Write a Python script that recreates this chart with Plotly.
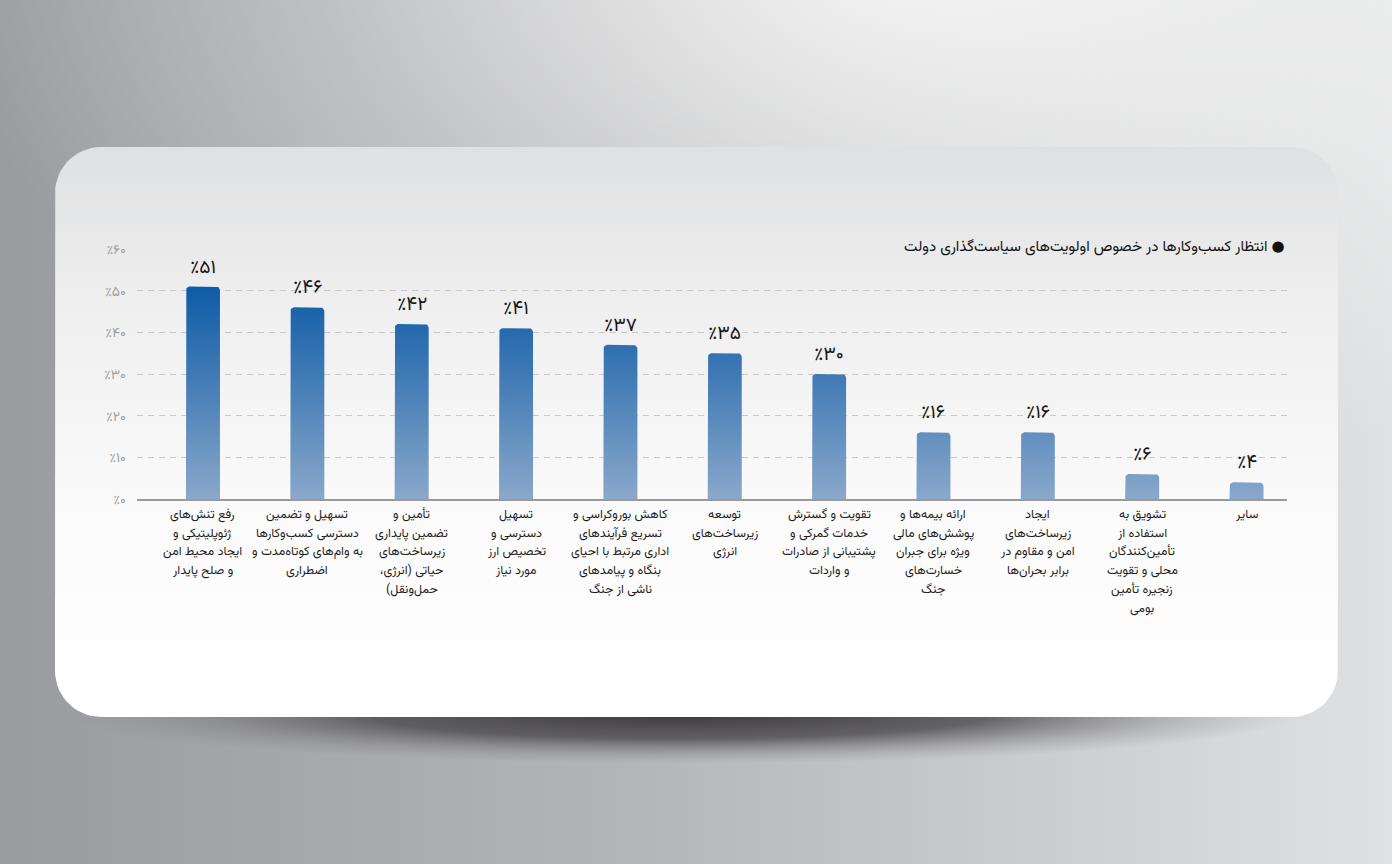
import numpy as np
import plotly.graph_objects as go

# ---------------- data ----------------
categories = [
    "رفع تنش‌های<br>ژئوپلیتیکی و<br>ایجاد محیط امن<br>و صلح پایدار",
    "تسهیل و تضمین<br>دسترسی کسب‌وکارها<br>به وام‌های کوتاه‌مدت و<br>اضطراری",
    "تأمین و<br>تضمین پایداری<br>زیرساخت‌های<br>حیاتی (انرژی،<br>حمل‌ونقل)",
    "تسهیل<br>دسترسی و<br>تخصیص ارز<br>مورد نیاز",
    "کاهش بوروکراسی و<br>تسریع فرآیندهای<br>اداری مرتبط با احیای<br>بنگاه و پیامدهای<br>ناشی از جنگ",
    "توسعه<br>زیرساخت‌های<br>انرژی",
    "تقویت و گسترش<br>خدمات گمرکی و<br>پشتیبانی از صادرات<br>و واردات",
    "ارائه بیمه‌ها و<br>پوشش‌های مالی<br>ویژه برای جبران<br>خسارت‌های<br>جنگ",
    "ایجاد<br>زیرساخت‌های<br>امن و مقاوم در<br>برابر بحران‌ها",
    "تشویق به<br>استفاده از<br>تأمین‌کنندگان<br>محلی و تقویت<br>زنجیره تأمین<br>بومی",
    "سایر",
]
values = [51, 46, 42, 41, 37, 35, 30, 16, 16, 6, 4]
y_ticks = [0, 10, 20, 30, 40, 50, 60]
legend_title = "انتظار کسب‌وکارها در خصوص اولویت‌های سیاست‌گذاری دولت"

FA = str.maketrans("0123456789", "۰۱۲۳۴۵۶۷۸۹")
RLM = "\u200f"


def fa_pct(v):
    return "٪" + str(v).translate(FA)


def rtl(s):
    return RLM + s + RLM


FONT = "Vazirmatn, 'Noto Sans Arabic', 'DejaVu Sans', sans-serif"

W, H = 1392, 864
PL, PR, PT, PB = 137, 1287, 249, 499      # plot area in pixels
XR = [-0.632, 10.388]
YR = [0, 60]


def py(y):  # pixel-from-top -> background axis value
    return H - y


def rounded_rect(x0, y0, x1, y1, r, n=16):
    xs, ys = [], []
    corners = [
        (x1 - r, y0 + r, -90, 0),
        (x1 - r, y1 - r, 0, 90),
        (x0 + r, y1 - r, 90, 180),
        (x0 + r, y0 + r, 180, 270),
    ]
    for cx, cy, a0, a1 in corners:
        for a in np.linspace(np.radians(a0), np.radians(a1), n):
            xs.append(cx + r * np.cos(a))
            ys.append(py(cy + r * np.sin(a)))
    xs.append(xs[0])
    ys.append(ys[0])
    return xs, ys


def ellipse(cx, cy, a, b, n=90):
    t = np.linspace(0, 2 * np.pi, n)
    return list(cx + a * np.cos(t)), list(py(cy + b * np.sin(t)))


fig = go.Figure()

# ---------------- decorative background (full-page axes) ----------------
fig.add_trace(go.Scatter(
    x=[0, W, W, 0, 0], y=[0, 0, H, H, 0], mode="lines", fill="toself",
    line=dict(width=0), hoverinfo="skip", showlegend=False,
    fillgradient=dict(type="horizontal",
                      colorscale=[[0, "#9a9b9f"], [0.45, "#b4b5b7"], [1, "#e0e1e2"]]),
    xaxis="x", yaxis="y"))

gx, gy = ellipse(920, -60, 1000, 560)
fig.add_trace(go.Scatter(
    x=gx, y=gy, mode="lines", fill="toself", line=dict(width=0),
    hoverinfo="skip", showlegend=False,
    fillgradient=dict(type="radial",
                      colorscale=[[0, "rgba(255,255,255,0.85)"], [0.6, "rgba(255,255,255,0.28)"],
                                  [1, "rgba(255,255,255,0)"]]),
    xaxis="x", yaxis="y"))

sx, sy = ellipse(680, 714, 620, 50)
fig.add_trace(go.Scatter(
    x=sx, y=sy, mode="lines", fill="toself", line=dict(width=0),
    hoverinfo="skip", showlegend=False,
    fillgradient=dict(type="radial",
                      colorscale=[[0, "rgba(60,58,60,1)"], [0.5, "rgba(75,73,75,0.8)"],
                                  [0.8, "rgba(110,110,112,0.3)"], [1, "rgba(130,130,132,0)"]]),
    xaxis="x", yaxis="y"))

cx_, cy_ = rounded_rect(55, 147, 1338, 717, 46)
fig.add_trace(go.Scatter(
    x=cx_, y=cy_, mode="lines", fill="toself", line=dict(width=0),
    hoverinfo="skip", showlegend=False,
    fillgradient=dict(type="vertical",
                      colorscale=[[0, "#ffffff"], [0.35, "#fbfbfb"], [0.75, "#eeeeef"], [1, "#dfe0e1"]]),
    xaxis="x", yaxis="y"))

# ---------------- bars (gradient-filled polygons) ----------------
hw = 0.163
rx = 4.0 / ((PR - PL) / (XR[1] - XR[0]))
ry = 4.0 / ((PB - PT) / (YR[1] - YR[0]))
bx, by = [], []
for i, v in enumerate(values):
    bx += [i - hw, i - hw]
    by += [0, v - ry]
    for a in np.linspace(np.pi, np.pi / 2, 8):
        bx.append(i - hw + rx + rx * np.cos(a))
        by.append(v - ry + ry * np.sin(a))
    for a in np.linspace(np.pi / 2, 0, 8):
        bx.append(i + hw - rx + rx * np.cos(a))
        by.append(v - ry + ry * np.sin(a))
    bx += [i + hw, i - hw, None]
    by += [0, 0, None]

fig.add_trace(go.Scatter(
    x=bx, y=by, mode="lines", fill="toself", line=dict(width=0),
    hoverinfo="skip", showlegend=False,
    fillgradient=dict(type="vertical", start=0, stop=max(values),
                      colorscale=[[0, "#8aa8cb"], [0.5, "#4a80b8"], [1, "#0e5ba6"]]),
    xaxis="x2", yaxis="y2"))

annotations = []
# value labels above bars
for i, v in enumerate(values):
    annotations.append(dict(
        x=i, y=v, xref="x2", yref="y2", xanchor="center", yanchor="bottom",
        yshift=2, showarrow=False, text=fa_pct(v),
        font=dict(family=FONT, size=19, color="#141414")))

# category labels, one line per annotation (line spacing ~18.7px)
for i, cat in enumerate(categories):
    for k, line in enumerate(cat.split("<br>")):
        annotations.append(dict(
            x=i, y=0, xref="x2", yref="y2", xanchor="center", yanchor="middle",
            yshift=-(16 + 18.7 * k), showarrow=False, text=rtl(line),
            font=dict(family=FONT, size=12.5, color="#1e1e1e")))

annotations.append(dict(
    x=PR / W, y=(H - 247) / H, xref="paper", yref="paper",
    xanchor="right", yanchor="middle", showarrow=False,
    text=rtl("● " + legend_title),
    font=dict(family=FONT, size=15, color="#111111")))

# ---------------- layout ----------------
fig.update_layout(
    template="none",
    width=W, height=H,
    margin=dict(l=0, r=0, t=0, b=0, pad=0, autoexpand=False),
    paper_bgcolor="#b8b9bb",
    plot_bgcolor="rgba(0,0,0,0)",
    font=dict(family=FONT),
    showlegend=False,
    xaxis=dict(range=[0, W], domain=[0, 1], visible=False, fixedrange=True, automargin=False),
    yaxis=dict(range=[0, H], domain=[0, 1], visible=False, fixedrange=True, automargin=False),
    xaxis2=dict(
        domain=[PL / W, PR / W], range=XR, anchor="y2", automargin=False,
        tickmode="array", tickvals=list(range(len(categories))), ticktext=[""] * len(categories),
        showgrid=False, zeroline=False, ticks="",
        showline=True, linecolor="#9a9a9a", linewidth=1.5,
    ),
    yaxis2=dict(
        domain=[(H - PB) / H, (H - PT) / H], range=YR, anchor="x2", automargin=False,
        tickmode="array", tickvals=y_ticks, ticktext=[fa_pct(t) for t in y_ticks],
        tickfont=dict(family=FONT, size=14, color="#a0a0a0"),
        showgrid=True, gridcolor="#c8c8c8", gridwidth=1, griddash="6px,5px",
        zeroline=False, showline=False, ticks="", ticklabelstandoff=10,
    ),
    annotations=annotations,
)

fig.write_html("out.html", config={"displayModeBar": False},
               post_script="document.body.style.margin='0';")
